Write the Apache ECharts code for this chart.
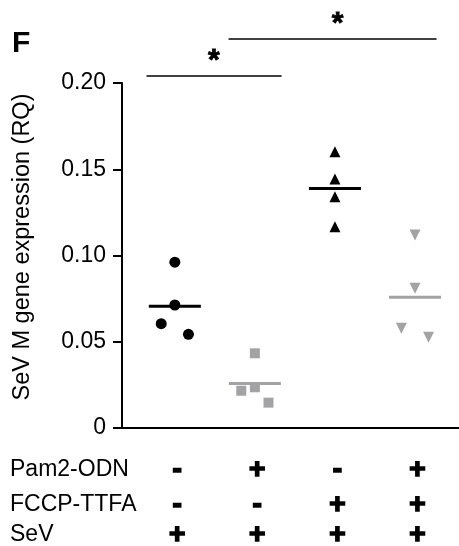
<!DOCTYPE html>
<html>
<head>
<meta charset="utf-8">
<script src="https://cdn.jsdelivr.net/npm/echarts@6/dist/echarts.min.js"></script>
<style>
  html, body { margin: 0; padding: 0; background: #fff; }
  #main { width: 459px; height: 546px; }
</style>
</head>
<body>
<div id="main"></div>
<script>
// group positions on the x axis
const groups = [1, 2, 3, 4];
// treatment table below the plot
const rowLabels = ['Pam2-ODN', 'FCCP-TTFA', 'SeV'];
const pam2 = ['-', '+', '-', '+'];
const fccp = ['-', '-', '+', '+'];
const sev = ['+', '+', '+', '+'];
// SeV M gene expression (RQ), one array per group
const noDrug = [0.0961, 0.0713, 0.0605, 0.0543];
const pam2Only = [0.0433, 0.0216, 0.0236, 0.0147];
const fccpOnly = [0.1602, 0.1443, 0.1341, 0.1167];
const bothDrugs = [0.1119, 0.0810, 0.0578, 0.0526];
// horizontal spread of the points inside a group
const jitter1 = [0, 0, -0.17, 0.17];
const jitter2 = [0, -0.17, 0, 0.17];
const jitter3 = [0, 0, 0, 0];
const jitter4 = [0, 0, -0.17, 0.17];
// significance brackets: [x start, x end, y]
const sigBars = [[0.646, 2.333, 0.2041], [1.671, 4.27, 0.2255]];
const yTicks = [0, 0.05, 0.1, 0.15, 0.2];

const FONT = '"Liberation Sans", Arial, sans-serif';
const GREY = '#a3a3a6';

const chart = echarts.init(document.getElementById('main'), null, { renderer: 'canvas' });

const groupData = [
	{ vals: noDrug, jit: jitter1, symbol: 'circle', size: 11, color: '#000' },
	{ vals: pam2Only, jit: jitter2, symbol: 'rect', size: 10, color: GREY },
	{ vals: fccpOnly, jit: jitter3, symbol: 'triangle', size: 11, color: '#000' },
	{ vals: bothDrugs, jit: jitter4, symbol: 'triangle', size: 11, color: GREY, rotate: 180 },
];

const series = [];
groupData.forEach((g, i) => {
	const x = groups[i];
	series.push({
		type: 'scatter',
		data: g.vals.map((v, k) => [x + g.jit[k], v]),
		symbol: g.symbol,
		symbolSize: g.size,
		symbolRotate: g.rotate || 0,
		itemStyle: { color: g.color, opacity: 1 },
		silent: true,
	});
	const mean = g.vals.reduce((a, b) => a + b, 0) / g.vals.length; // mean bar
	series.push({
		type: 'line',
		data: [[x - 0.325, mean], [x + 0.325, mean]],
		symbol: 'none',
		lineStyle: { color: g.color, width: 3 },
		silent: true,
	});
});
sigBars.forEach((b) => {
	series.push({
		type: 'line',
		data: [[b[0], b[2]], [b[1], b[2]]],
		symbol: 'none',
		clip: false,
		lineStyle: { color: '#000', width: 1.5 },
		silent: true,
	});
});

chart.setOption({
	animation: false,
	backgroundColor: '#fff',
	grid: { left: 122, right: 0, top: 83, bottom: 118 },
	xAxis: {
		type: 'value',
		min: 0.34,
		max: 4.55,
		axisLine: { lineStyle: { color: '#000', width: 2 } },
		axisTick: { show: false },
		axisLabel: { show: false },
		splitLine: { show: false },
	},
	yAxis: {
		type: 'value',
		min: 0,
		max: 0.2,
		interval: 0.05,
		axisLine: { show: true, lineStyle: { color: '#000', width: 2 } },
		axisTick: { show: true, length: 9, lineStyle: { color: '#000', width: 2 } },
		axisLabel: {
			margin: 16,
			color: '#000',
			fontSize: 23,
			fontFamily: FONT,
			formatter: (v) => (v === 0 ? '0' : v.toFixed(2)),
		},
		splitLine: { show: false },
	},
	series: series,
});

// texts: panel letter, axis title, stars and the treatment table
const graphics = [];
graphics.push({
	type: 'text', x: 12, y: 44,
	style: { text: 'F', font: 'bold 30px ' + FONT, fill: '#000', verticalAlign: 'middle' },
});
graphics.push({
	type: 'text', x: 23, y: 247, rotation: Math.PI / 2,
	style: { text: 'SeV M gene expression (RQ)', font: '23.5px ' + FONT, fill: '#000', align: 'center', verticalAlign: 'middle' },
});
const starPos = [[1.4875, 0.2162], [3.034, 0.238]];
starPos.forEach((s) => {
	const p = chart.convertToPixel({ gridIndex: 0 }, s);
	graphics.push({
		type: 'text', x: p[0], y: p[1] + 6,
		style: { text: '*', font: 'bold 30px ' + FONT, fill: '#000', stroke: '#000', lineWidth: 0.8, align: 'center', verticalAlign: 'middle' },
	});
});
const rowY = [470, 505, 535];
const rows = [pam2, fccp, sev];
rowLabels.forEach((lab, r) => {
	graphics.push({
		type: 'text', x: 10, y: rowY[r],
		style: { text: lab, font: '23px ' + FONT, fill: '#000', verticalAlign: 'middle' },
	});
	rows[r].forEach((sym, i) => {
		const px = chart.convertToPixel({ gridIndex: 0 }, [groups[i] + 0.03, 0])[0];
		graphics.push({
			type: 'text', x: px, y: rowY[r],
			style: { text: sym, font: 'bold 28px ' + FONT, fill: '#000', stroke: '#000', lineWidth: 1.6, align: 'center', verticalAlign: 'middle' },
		});
	});
});
chart.setOption({ graphic: graphics });
</script>
</body>
</html>
